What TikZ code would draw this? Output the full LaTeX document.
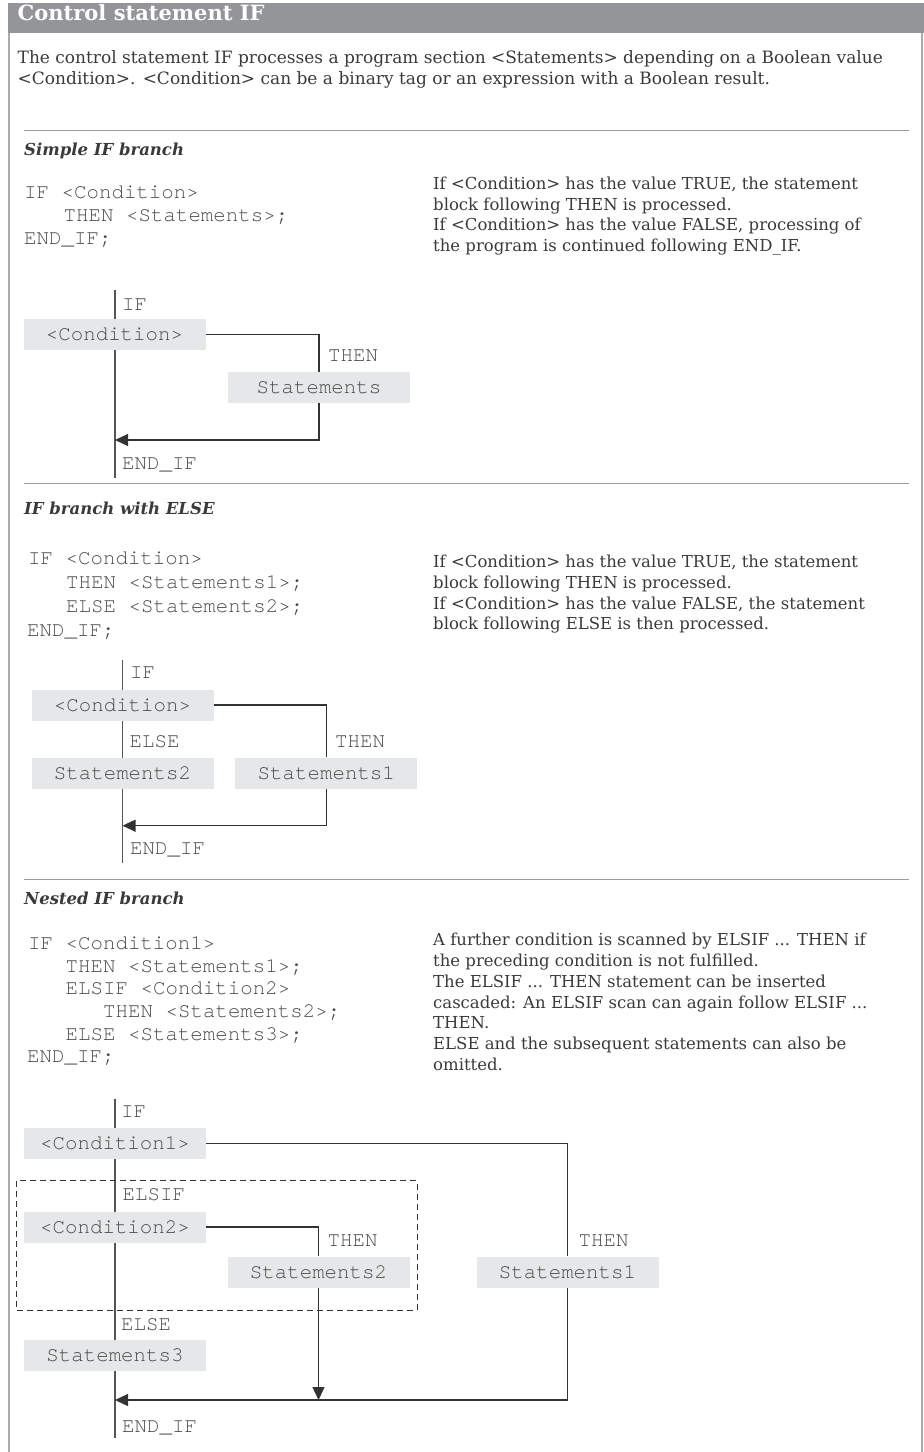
\documentclass[tikz,border=0pt]{standalone}
\usepackage{fontspec}
\setmainfont{DejaVu Serif}
\newfontfamily\codef{TeX Gyre Cursor}
\usetikzlibrary{arrows.meta}
\definecolor{hdr}{HTML}{939598}
\definecolor{bord}{HTML}{ABABAB}
\definecolor{sepc}{HTML}{9A9A9A}
\definecolor{txt}{HTML}{3A3A3A}
\definecolor{codec}{HTML}{4A4A4A}
\definecolor{boxc}{HTML}{E6E7E8}
\definecolor{linec}{HTML}{333333}
\definecolor{mainc}{HTML}{555555}
\begin{document}
\begin{tikzpicture}[x=1pt,y=-1pt,
  desc/.style={anchor=mid west, inner sep=0pt, text=txt, font=\fontsize{16.5}{20}\selectfont},
  intro/.style={anchor=mid west, inner sep=0pt, text=txt, font=\fontsize{17}{20}\selectfont},
  head/.style={anchor=mid west, inner sep=0pt, text=txt, font=\fontsize{16.5}{20}\selectfont\bfseries\itshape},
  code/.style={anchor=mid west, inner sep=0pt, text=codec, font=\codef\fontsize{20.8}{23}\selectfont},
  gbox/.style={fill=boxc, minimum width=182pt, minimum height=31pt, inner sep=0pt, text=codec, font=\codef\fontsize{20.8}{23}\selectfont},
  conn/.style={draw=linec, line width=1.2pt},
  mainl/.style={draw=mainc, line width=1.6pt},
  arr/.style={conn, -{Triangle[length=13pt,width=12pt]}},
  sep/.style={draw=sepc, line width=1pt},
]
\useasboundingbox (0,0) rectangle (924,1452);
% frame and header
\draw[bord, line width=1.5pt] (9,3) -- (9,1452);
\draw[bord, line width=1.5pt] (922,3) -- (922,1452);
\fill[hdr] (8.25,3) rectangle (924,33.3);
\node[anchor=mid west, inner sep=0pt, text=white, font=\fontsize{21}{22}\selectfont\bfseries] (title) at (17.5,18) {Control statement IF};
\node[intro] (i1) at (17.5,60.5) {The control statement IF processes a program section <Statements> depending on a Boolean value};
\node[intro] (i2) at (17.5,81.5) {<Condition>. <Condition> can be a binary tag or an expression with a Boolean result.};
% separators
\coordinate (sa1) at (24,130); \coordinate (sb1) at (909,130);
\coordinate (sa2) at (24,483); \coordinate (sb2) at (909,483);
\coordinate (sa3) at (24,879); \coordinate (sb3) at (909,879);
\draw[sep] (sa1) -- (sb1);
\draw[sep] (sa2) -- (sb2);
\draw[sep] (sa3) -- (sb3);

% ---------------- Section 1
\node[head] (h1) at (24,153) {Simple IF branch};
\node[code] (k11) at (24,195.5) {IF <Condition>};
\node[code] (k12) at (63.5,219) {THEN <Statements>;};
\node[code] (k13) at (24,242) {END\_IF;};
\node[desc] (d11) at (433,186.7) {If <Condition> has the value TRUE, the statement};
\node[desc] (d12) at (433,207.4) {block following THEN is processed.};
\node[desc] (d13) at (433,228.1) {If <Condition> has the value FALSE, processing of};
\node[desc] (d14) at (433,248.8) {the program is continued following END\_IF.};
\coordinate (t1) at (115,290); \coordinate (b1) at (115,478);
\draw[mainl] (t1) -- (b1);
\node[gbox] (c1) at (114.5,334.5) {<Condition>};
\node[gbox] (s1) at (319,387.2) {Statements};
\node[code] (if1) at (122,308) {IF};
\node[code] (then1) at (328,359) {THEN};
\node[code] (end1) at (122,466.5) {END\_IF};
\coordinate (m1) at (115,440);
\draw[conn] (c1.east) -| (s1.north);
\draw[arr] (s1.south) |- (m1);

% ---------------- Section 2
\node[head] (h2) at (24,511.7) {IF branch with ELSE};
\node[code] (k21) at (28,561.7) {IF <Condition>};
\node[code] (k22) at (66,585.7) {THEN <Statements1>;};
\node[code] (k23) at (66,609.7) {ELSE <Statements2>;};
\node[code] (k24) at (27,633.7) {END\_IF;};
\node[desc] (d21) at (433,565) {If <Condition> has the value TRUE, the statement};
\node[desc] (d22) at (433,585.7) {block following THEN is processed.};
\node[desc] (d23) at (433,606.4) {If <Condition> has the value FALSE, the statement};
\node[desc] (d24) at (433,627.1) {block following ELSE is then processed.};
\coordinate (t2) at (122.5,660); \coordinate (b2) at (122.5,863);
\draw[mainl] (t2) -- (b2);
\node[gbox] (c2) at (122.5,705) {<Condition>};
\node[gbox] (s2b) at (122.5,773) {Statements2};
\node[gbox] (s2a) at (326.3,773) {Statements1};
\node[code] (if2) at (130,676) {IF};
\node[code] (else2) at (129.5,745) {ELSE};
\node[code] (then2) at (335,745) {THEN};
\node[code] (end2) at (130,851.5) {END\_IF};
\coordinate (m2) at (122.5,825.7);
\draw[conn] (c2.east) -| (s2a.north);
\draw[arr] (s2a.south) |- (m2);

% ---------------- Section 3
\node[head] (h3) at (24,901.7) {Nested IF branch};
\node[code] (k31) at (28,947) {IF <Condition1>};
\node[code] (k32) at (65.5,969.6) {THEN <Statements1>;};
\node[code] (k33) at (65.5,992.2) {ELSIF <Condition2>};
\node[code] (k34) at (103,1014.8) {THEN <Statements2>;};
\node[code] (k35) at (65.5,1037.4) {ELSE <Statements3>;};
\node[code] (k36) at (27,1060) {END\_IF;};
\node[desc] (d31) at (433,943) {A further condition is scanned by ELSIF ... THEN if};
\node[desc] (d32) at (433,963.8) {the preceding condition is not fulfilled.};
\node[desc] (d33) at (433,984.6) {The ELSIF ... THEN statement can be inserted};
\node[desc] (d34) at (433,1005.4) {cascaded: An ELSIF scan can again follow ELSIF ...};
\node[desc] (d35) at (433,1026.2) {THEN.};
\node[desc] (d36) at (433,1047) {ELSE and the subsequent statements can also be};
\node[desc] (d37) at (433,1067.8) {omitted.};
\coordinate (t3) at (115,1099); \coordinate (b3) at (115,1438);
\draw[mainl] (t3) -- (b3);
\coordinate (dbA) at (16.5,1180.7); \coordinate (dbB) at (417,1310);
\draw[draw=linec, line width=1pt, dash pattern=on 6pt off 4pt] (dbA) rectangle (dbB);
\node[gbox] (c31) at (115,1143.5) {<Condition1>};
\node[gbox] (c32) at (115,1227) {<Condition2>};
\node[gbox] (s32) at (318.5,1272) {Statements2};
\node[gbox] (s31) at (567.5,1272) {Statements1};
\node[gbox] (s33) at (115,1355) {Statements3};
\node[code] (if3) at (121,1115) {IF};
\node[code] (elsif3) at (122.5,1198) {ELSIF};
\node[code] (then32) at (327.5,1244) {THEN};
\node[code] (then31) at (578.5,1244) {THEN};
\node[code] (else3) at (121,1328) {ELSE};
\node[code] (end3) at (122,1430) {END\_IF};
\coordinate (j3) at (318.5,1400); \coordinate (m3) at (115,1400);
\draw[conn] (c31.east) -| (s31.north);
\draw[conn] (c32.east) -| (s32.north);
\draw[arr] (s32.south) -- (j3);
\draw[arr] (s31.south) |- (m3);
\end{tikzpicture}
\end{document}
